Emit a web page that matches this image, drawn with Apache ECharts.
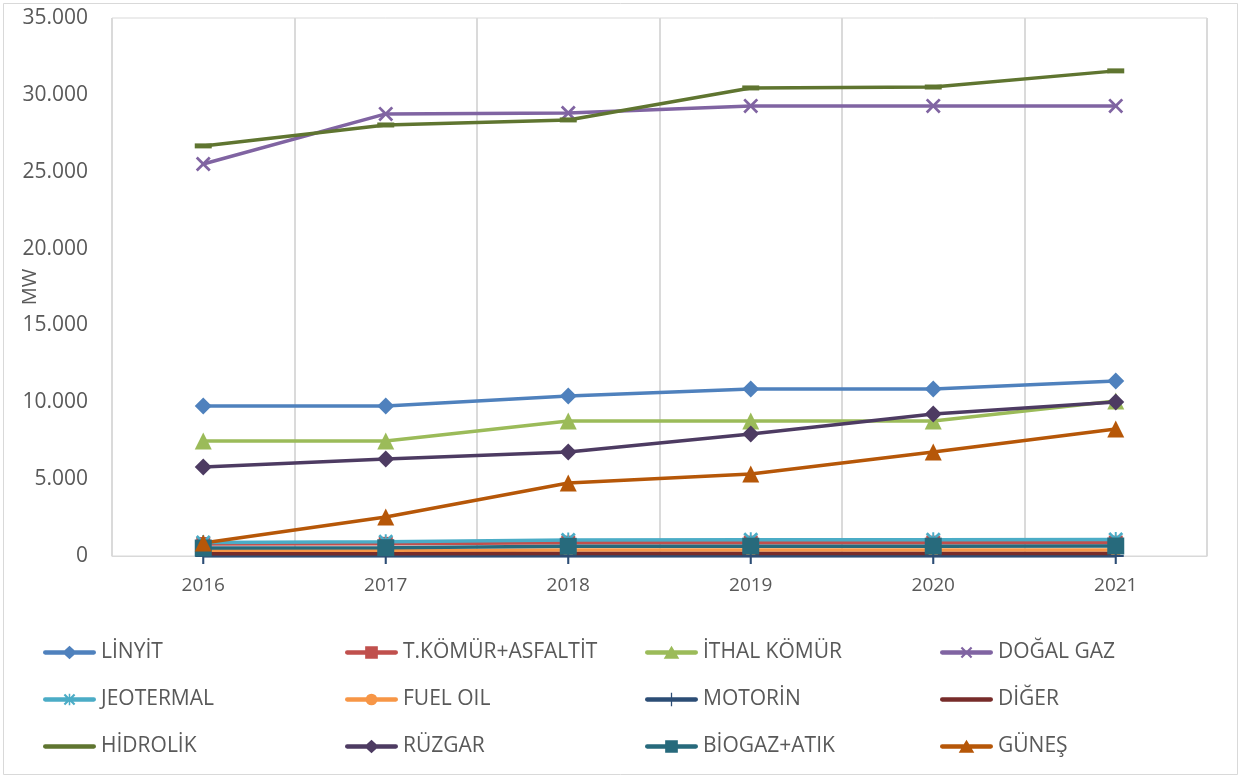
<!DOCTYPE html>
<html>
<head>
<meta charset="utf-8">
<script src="https://cdn.jsdelivr.net/npm/echarts@6/dist/echarts.min.js"></script>
<style>
html,body{margin:0;padding:0;background:#fff;}
#c{width:1241px;height:778px;}
</style>
</head>
<body>
<div id="c"></div>
<script>
// ---- data ----
var categories = ['2016', '2017', '2018', '2019', '2020', '2021'];
var yTicks = [0, 5000, 10000, 15000, 20000, 25000, 30000, 35000];
var linyit    = [9760, 9760, 10410, 10870, 10870, 11390];
var tkomur    = [780, 790, 870, 870, 870, 870];
var ithal     = [7480, 7480, 8780, 8780, 8780, 10080];
var dogalgaz  = [25500, 28760, 28820, 29280, 29280, 29280];
var jeotermal = [880, 930, 1040, 1060, 1060, 1070];
var fueloil   = [340, 340, 390, 390, 390, 390];
var motorin   = [1, 1, 1, 1, 1, 1];
var diger     = [150, 150, 160, 160, 160, 160];
var hidrolik  = [26680, 28040, 28370, 30450, 30510, 31560];
var ruzgar    = [5790, 6310, 6770, 7940, 9240, 10020];
var biogaz    = [520, 540, 630, 640, 640, 650];
var gunes     = [850, 2540, 4750, 5340, 6770, 8260];
var names = ['LİNYİT', 'T.KÖMÜR+ASFALTİT', 'İTHAL KÖMÜR', 'DOĞAL GAZ',
             'JEOTERMAL', 'FUEL OIL', 'MOTORİN', 'DİĞER',
             'HİDROLİK', 'RÜZGAR', 'BİOGAZ+ATIK', 'GÜNEŞ'];

// ---- marker shapes ----
var X_D = 'M0,1.3 L1.3,0 L5,3.7 L8.7,0 L10,1.3 L6.3,5 L10,8.7 L8.7,10 L5,6.3 L1.3,10 L0,8.7 L3.7,5 Z';
var STAR_D = X_D + ' M4.35,0 L5.65,0 L5.65,10 L4.35,10 Z';
var PLUS_D = 'M4.35,0 L5.65,0 L5.65,4.35 L10,4.35 L10,5.65 L5.65,5.65 L5.65,10 L4.35,10 L4.35,5.65 L0,5.65 L0,4.35 L4.35,4.35 Z';
var DASH_D = 'M0,0 L10,0 L10,3 L0,3 Z';

// legend icons (53 x 14 box): line + marker
var LW = 53, LH = 14, CX = 26.5;
var BOX = 'M0,0 L0.01,0 L0.01,0.01 Z M52.99,13.99 L53,13.99 L53,14 Z ';
var LINE = 'M1.5,4.8 L51.5,4.8 A2.2,2.2 0 0,1 51.5,9.2 L1.5,9.2 A2.2,2.2 0 0,1 1.5,4.8 Z ';
function mk(d, size) { // scale a 0..10 path to size, centred in box
  var s = size / 10, ox = CX - size / 2, oy = 7 - size / 2;
  return d.replace(/(-?\d+(\.\d+)?),(-?\d+(\.\d+)?)/g, function (m, a, b, c2) {
    return (parseFloat(a) * s + ox).toFixed(2) + ',' + (parseFloat(c2) * s + oy).toFixed(2);
  });
}
var ICON_DIAMOND = 'path://' + BOX + LINE + 'M19,7 L26.5,0 L34,7 L26.5,14 Z';
var ICON_SQUARE = 'path://' + BOX + LINE + 'M20,0.5 L33,0.5 L33,13.5 L20,13.5 Z';
var ICON_TRI = 'path://' + BOX + LINE + 'M26.5,0 L34.5,13.5 L18.5,13.5 Z';
var ICON_X = 'path://' + BOX + LINE + mk(X_D, 12);
var ICON_STAR = 'path://' + BOX + LINE + mk(STAR_D, 12);
var ICON_CIRCLE = 'path://' + BOX + LINE + 'M20.5,7 A6,6 0 1,1 32.5,7 A6,6 0 1,1 20.5,7 Z';
var ICON_PLUS = 'path://' + BOX + LINE + 'M25.85,0 L27.15,0 L27.15,14 L25.85,14 Z';
var ICON_LINE = 'path://' + BOX + LINE;

var specs = [
  {d: linyit,    c: '#4F81BD', s: 'diamond',            z: 17, ic: ICON_DIAMOND},
  {d: tkomur,    c: '#C0504D', s: 'rect',               z: 14, ic: ICON_SQUARE},
  {d: ithal,     c: '#9BBB59', s: 'triangle',           z: 17, ic: ICON_TRI},
  {d: dogalgaz,  c: '#8064A2', s: 'path://' + X_D,      z: 15, ic: ICON_X},
  {d: jeotermal, c: '#4BACC6', s: 'path://' + STAR_D,   z: 15, ic: ICON_STAR},
  {d: fueloil,   c: '#F79646', s: 'circle',             z: 13, ic: ICON_CIRCLE},
  {d: motorin,   c: '#2C4D75', s: 'path://' + PLUS_D,   z: 16, ic: ICON_PLUS},
  {d: diger,     c: '#772C2A', s: 'none',               z: 0,  ic: ICON_LINE},
  {d: hidrolik,  c: '#5F7530', s: 'path://' + DASH_D,   z: [17, 5], ic: ICON_LINE},
  {d: ruzgar,    c: '#4D3B62', s: 'diamond',            z: 17, ic: ICON_DIAMOND},
  {d: biogaz,    c: '#276A7C', s: 'rect',               z: 17, ic: ICON_SQUARE},
  {d: gunes,     c: '#B65708', s: 'triangle',           z: 17, ic: ICON_TRI}
];

var series = specs.map(function (sp, i) {
  return {
    name: names[i],
    type: 'line',
    data: sp.d,
    symbol: sp.s,
    symbolSize: sp.z,
    showAllSymbol: true,
    lineStyle: {color: sp.c, width: 3.5},
    itemStyle: {color: sp.c, borderWidth: 0},
    emphasis: {disabled: true},
    animation: false
  };
});

var FONT = '"Open Sans", Lato, "DejaVu Sans", sans-serif';
function legendCol(idx, left) {
  return {
    orient: 'vertical',
    left: left,
    top: 642,
    padding: 0,
    itemWidth: LW,
    itemHeight: LH,
    itemGap: 26,
    data: idx.map(function (k) {
      return {name: names[k], icon: specs[k].ic, itemStyle: {color: specs[k].c, borderWidth: 0}};
    }),
    textStyle: {color: '#595959', fontSize: 21, fontFamily: FONT, lineHeight: 20},
    selectedMode: false
  };
}

function fmt(v) {
  return String(v).replace(/\B(?=(\d{3})+(?!\d))/g, '.');
}

var chart = echarts.init(document.getElementById('c'), null, {renderer: 'canvas'});
chart.setOption({
  backgroundColor: '#ffffff',
  animation: false,
  textStyle: {fontFamily: FONT},
  graphic: [{
    type: 'rect',
    shape: {x: 3.5, y: 3.5, width: 1234, height: 771},
    style: {fill: 'none', stroke: '#D9D9D9', lineWidth: 1},
    silent: true
  }],
  grid: {
    left: 112, right: 34, top: 18, bottom: 222,
    containLabel: false,
    outerBoundsMode: 'none',
    show: true, borderColor: '#D9D9D9', borderWidth: 1
  },
  legend: [
    legendCol([0, 4, 8], 43),
    legendCol([1, 5, 9], 345),
    legendCol([2, 6, 10], 645),
    legendCol([3, 7, 11], 940)
  ],
  xAxis: {
    type: 'category',
    data: categories,
    boundaryGap: true,
    axisLine: {lineStyle: {color: '#D9D9D9', width: 1}},
    axisTick: {show: false},
    axisLabel: {color: '#595959', fontSize: 19, fontFamily: FONT, margin: 20, interval: 0},
    splitLine: {show: true, interval: 0, lineStyle: {color: '#DADADA', width: 2}}
  },
  yAxis: {
    type: 'value',
    min: yTicks[0],
    max: yTicks[yTicks.length - 1],
    interval: yTicks[1] - yTicks[0],
    name: 'MW',
    nameLocation: 'middle',
    nameGap: 72,
    nameRotate: 90,
    nameMoveOverlap: false,
    nameTextStyle: {color: '#595959', fontSize: 20, fontFamily: FONT},
    axisLine: {show: false},
    axisTick: {show: false},
    splitLine: {show: false},
    axisLabel: {color: '#595959', fontSize: 21, fontFamily: FONT, margin: 24, formatter: fmt}
  },
  series: series
});
</script>
</body>
</html>
